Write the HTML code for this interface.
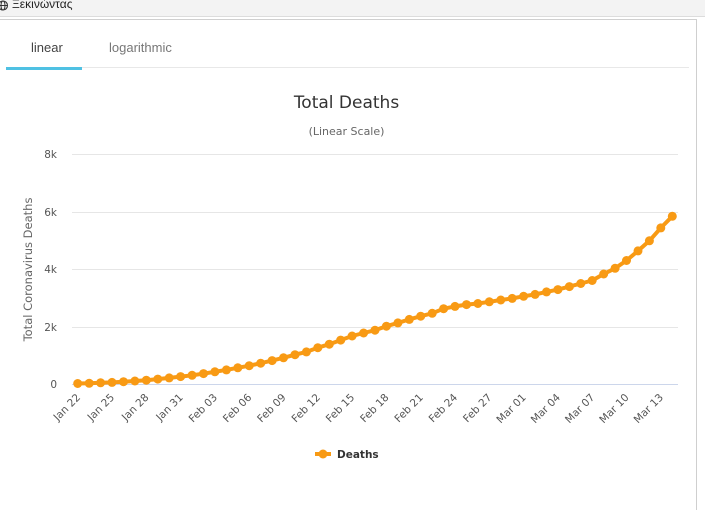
<!DOCTYPE html>
<html>
<head>
<meta charset="utf-8">
<style>
  html,body{margin:0;padding:0;background:#fff;}
  body{width:705px;height:504px;position:relative;overflow:hidden;font-family:"Liberation Sans","DejaVu Sans",sans-serif;}
  .topbar{position:absolute;left:0;top:0;width:705px;height:16px;background:#f3f3f3;border-bottom:1px solid #dcdcdc;}
  .topbar .t{position:absolute;left:12px;top:-3px;font-size:12px;color:#222;line-height:14px;}
  .panel{position:absolute;left:-2px;top:19px;width:698px;height:490px;border-top:1px solid #cfcfcf;border-right:1px solid #cfcfcf;background:#fff;}
  .tab{position:absolute;font-size:13px;top:40px;line-height:16px;}
</style>
</head>
<body>
<div class="topbar">
  <svg style="position:absolute;left:-2px;top:0" width="12" height="12" viewBox="0 0 12 12">
    <circle cx="5" cy="5.5" r="4.5" fill="none" stroke="#333" stroke-width="1.1"/>
    <line x1="0.5" y1="5.5" x2="9.5" y2="5.5" stroke="#333" stroke-width="1"/>
    <ellipse cx="5" cy="5.5" rx="2" ry="4.5" fill="none" stroke="#333" stroke-width="1"/>
  </svg>
  <div class="t">Ξεκινώντας</div>
</div>
<div class="panel"></div>
<div class="tab" style="left:31px;color:#444;">linear</div>
<div class="tab" style="left:109px;color:#777;">logarithmic</div>
<div style="position:absolute;left:82px;top:67px;width:607px;height:1px;background:#e8e8e8;"></div>
<div style="position:absolute;left:6px;top:67px;width:76px;height:3px;background:#4fc1e3;"></div>

<svg style="position:absolute;left:0;top:0" width="705" height="504" viewBox="0 0 705 504" font-family="'DejaVu Sans',sans-serif">
  <text x="346.5" y="108" text-anchor="middle" font-size="17" fill="#333">Total Deaths</text>
  <text x="346.5" y="135" text-anchor="middle" font-size="11" fill="#666">(Linear Scale)</text>

  <g stroke="#e6e6e6" stroke-width="1">
    <line x1="72" y1="154.5" x2="678" y2="154.5"/>
    <line x1="72" y1="212.5" x2="678" y2="212.5"/>
    <line x1="72" y1="269.5" x2="678" y2="269.5"/>
    <line x1="72" y1="327.5" x2="678" y2="327.5"/>
  </g>
  <line x1="72" y1="384.5" x2="678" y2="384.5" stroke="#ccd6eb" stroke-width="1"/>

  <g font-size="10.5" fill="#555" text-anchor="end">
    <text x="57" y="158">8k</text>
    <text x="57" y="216">6k</text>
    <text x="57" y="273">4k</text>
    <text x="57" y="331">2k</text>
    <text x="57" y="388">0</text>
  </g>
  <text transform="translate(32,269.5) rotate(-90)" text-anchor="middle" font-size="11.5" fill="#666">Total Coronavirus Deaths</text>

  <g font-size="10.5" fill="#555" text-anchor="end">
    <text transform="translate(81,398) rotate(-45)">Jan 22</text>
    <text transform="translate(115,398) rotate(-45)">Jan 25</text>
    <text transform="translate(149.3,398) rotate(-45)">Jan 28</text>
    <text transform="translate(183.6,398) rotate(-45)">Jan 31</text>
    <text transform="translate(217.9,398) rotate(-45)">Feb 03</text>
    <text transform="translate(252.2,398) rotate(-45)">Feb 06</text>
    <text transform="translate(286.5,398) rotate(-45)">Feb 09</text>
    <text transform="translate(320.8,398) rotate(-45)">Feb 12</text>
    <text transform="translate(355.1,398) rotate(-45)">Feb 15</text>
    <text transform="translate(389.4,398) rotate(-45)">Feb 18</text>
    <text transform="translate(423.7,398) rotate(-45)">Feb 21</text>
    <text transform="translate(458,398) rotate(-45)">Feb 24</text>
    <text transform="translate(492.3,398) rotate(-45)">Feb 27</text>
    <text transform="translate(526.6,398) rotate(-45)">Mar 01</text>
    <text transform="translate(560.9,398) rotate(-45)">Mar 04</text>
    <text transform="translate(595.2,398) rotate(-45)">Mar 07</text>
    <text transform="translate(629.5,398) rotate(-45)">Mar 10</text>
    <text transform="translate(663.8,398) rotate(-45)">Mar 13</text>
  </g>

  <polyline fill="none" stroke="#f89a14" stroke-width="4" stroke-linejoin="round" stroke-linecap="round"
    points="77.7,383.5 89.2,383.3 100.6,382.8 112.0,382.4 123.5,381.7 134.9,381.0 146.3,380.2 157.8,379.1 169.2,377.9 180.6,376.6 192.1,375.3 203.5,373.6 214.9,371.8 226.4,369.9 237.8,367.8 249.2,365.7 260.7,363.2 272.1,360.6 283.5,357.8 295.0,354.7 306.4,351.9 317.8,347.7 329.3,344.2 340.7,340.1 352.1,336.0 363.6,333.0 375.0,330.2 386.4,326.2 397.9,322.9 409.3,319.4 420.7,316.2 432.2,313.3 443.6,308.7 455.0,306.4 466.5,304.6 477.9,303.5 489.3,301.8 500.8,300.0 512.2,298.4 523.6,296.3 535.1,294.4 546.5,291.9 557.9,289.6 569.4,286.6 580.8,283.5 592.2,280.5 603.7,274.0 615.1,268.3 626.5,260.5 638.0,250.9 649.4,240.8 660.8,227.9 672.3,216.3"/>
  <g fill="#f89a14">
    <circle cx="77.7" cy="383.5" r="4.5"/><circle cx="89.2" cy="383.3" r="4.5"/><circle cx="100.6" cy="382.8" r="4.5"/><circle cx="112.0" cy="382.4" r="4.5"/><circle cx="123.5" cy="381.7" r="4.5"/><circle cx="134.9" cy="381.0" r="4.5"/><circle cx="146.3" cy="380.2" r="4.5"/><circle cx="157.8" cy="379.1" r="4.5"/><circle cx="169.2" cy="377.9" r="4.5"/><circle cx="180.6" cy="376.6" r="4.5"/><circle cx="192.1" cy="375.3" r="4.5"/><circle cx="203.5" cy="373.6" r="4.5"/><circle cx="214.9" cy="371.8" r="4.5"/><circle cx="226.4" cy="369.9" r="4.5"/><circle cx="237.8" cy="367.8" r="4.5"/><circle cx="249.2" cy="365.7" r="4.5"/><circle cx="260.7" cy="363.2" r="4.5"/><circle cx="272.1" cy="360.6" r="4.5"/><circle cx="283.5" cy="357.8" r="4.5"/><circle cx="295.0" cy="354.7" r="4.5"/><circle cx="306.4" cy="351.9" r="4.5"/><circle cx="317.8" cy="347.7" r="4.5"/><circle cx="329.3" cy="344.2" r="4.5"/><circle cx="340.7" cy="340.1" r="4.5"/><circle cx="352.1" cy="336.0" r="4.5"/><circle cx="363.6" cy="333.0" r="4.5"/><circle cx="375.0" cy="330.2" r="4.5"/><circle cx="386.4" cy="326.2" r="4.5"/><circle cx="397.9" cy="322.9" r="4.5"/><circle cx="409.3" cy="319.4" r="4.5"/><circle cx="420.7" cy="316.2" r="4.5"/><circle cx="432.2" cy="313.3" r="4.5"/><circle cx="443.6" cy="308.7" r="4.5"/><circle cx="455.0" cy="306.4" r="4.5"/><circle cx="466.5" cy="304.6" r="4.5"/><circle cx="477.9" cy="303.5" r="4.5"/><circle cx="489.3" cy="301.8" r="4.5"/><circle cx="500.8" cy="300.0" r="4.5"/><circle cx="512.2" cy="298.4" r="4.5"/><circle cx="523.6" cy="296.3" r="4.5"/><circle cx="535.1" cy="294.4" r="4.5"/><circle cx="546.5" cy="291.9" r="4.5"/><circle cx="557.9" cy="289.6" r="4.5"/><circle cx="569.4" cy="286.6" r="4.5"/><circle cx="580.8" cy="283.5" r="4.5"/><circle cx="592.2" cy="280.5" r="4.5"/><circle cx="603.7" cy="274.0" r="4.5"/><circle cx="615.1" cy="268.3" r="4.5"/><circle cx="626.5" cy="260.5" r="4.5"/><circle cx="638.0" cy="250.9" r="4.5"/><circle cx="649.4" cy="240.8" r="4.5"/><circle cx="660.8" cy="227.9" r="4.5"/><circle cx="672.3" cy="216.3" r="4.5"/>
  </g>

  <line x1="315" y1="454" x2="331" y2="454" stroke="#f89a14" stroke-width="4"/>
  <circle cx="323" cy="454" r="4.5" fill="#f89a14"/>
  <text x="337" y="458" font-size="10.5" font-weight="bold" fill="#333">Deaths</text>
</svg>
</body>
</html>
